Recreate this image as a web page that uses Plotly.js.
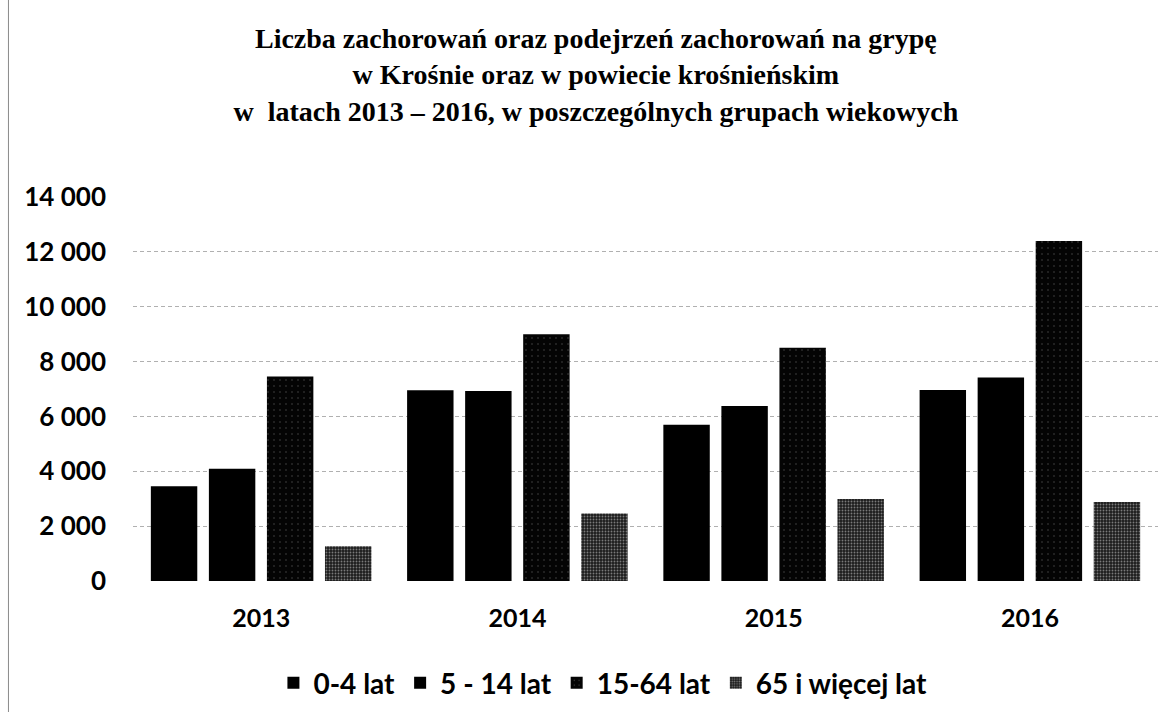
<!DOCTYPE html>
<html>
<head>
<meta charset="utf-8">
<script src="https://cdn.plot.ly/plotly-3.0.1.min.js"></script>
<style>html,body{margin:0;padding:0;background:#fff;}#chart{width:1173px;height:712px;}</style>
</head>
<body>
<div id="chart"></div>
<script>
const years = ['2013', '2014', '2015', '2016'];
const seriesNames = ['0-4 lat', '5 - 14 lat', '15-64 lat', '65 i więcej lat'];
const age0_4 = [3450, 6950, 5700, 6960];
const age5_14 = [4090, 6930, 6380, 7420];
const age15_64 = [7460, 9000, 8500, 12400];
const age65plus = [1270, 2460, 2990, 2880];
const yTicks = [0, 2000, 4000, 6000, 8000, 10000, 12000, 14000];

const styles = [
  {color: '#000000'},
  {color: '#000000'},
  {color: '#060606', pattern: {shape: '.', fgcolor: '#4a4a4a', bgcolor: '#040404', size: 6, solidity: 0.05}},
  {color: '#333333', pattern: {shape: '.', fgcolor: '#7a7a7a', bgcolor: '#1c1c1c', size: 3, solidity: 0.3}}
];
const values = [age0_4, age5_14, age15_64, age65plus];

const traces = values.map((v, i) => ({
  type: 'bar',
  name: seriesNames[i],
  x: years,
  y: v,
  marker: Object.assign({line: {width: 0}}, styles[i]),
  hoverinfo: 'skip'
}));

const yTickFont = {family: 'Lato, "Liberation Sans", sans-serif', size: 26, color: '#000', weight: 'bold'};
const xTickFont = {family: 'Lato, "Liberation Sans", sans-serif', size: 25, color: '#000', weight: 'bold'};

const layout = {
  width: 1173,
  height: 712,
  paper_bgcolor: '#ffffff',
  plot_bgcolor: '#ffffff',
  separators: ', ',
  margin: {l: 133, r: 15, t: 197, b: 131},
  title: {
    text: '<b>Liczba zachorowań oraz podejrzeń zachorowań na grypę<br>w Krośnie oraz w powiecie krośnieńskim<br>w  latach 2013 – 2016, w poszczególnych grupach wiekowych</b>',
    font: {family: '"Liberation Serif", "DejaVu Serif", serif', size: 28, color: '#000'},
    x: 0.508, xref: 'container', xanchor: 'center',
    y: 1 - 48 / 712, yref: 'container', yanchor: 'top'
  },
  barmode: 'group',
  bargap: 0.094,
  bargroupgap: 0.2,
  xaxis: {
    type: 'category',
    showgrid: false,
    showline: false,
    zeroline: false,
    ticks: '',
    tickfont: xTickFont,
    ticklabelstandoff: 20
  },
  yaxis: {
    range: [0, 14000],
    tickvals: yTicks,
    tickformat: ',d',
    showgrid: true,
    gridcolor: '#b0b0b0',
    gridwidth: 1,
    griddash: '4px,3px',
    zeroline: false,
    showline: false,
    ticks: '',
    tickfont: yTickFont,
    ticklabelstandoff: 26
  },
  showlegend: true,
  legend: {
    orientation: 'h',
    xref: 'container', x: 0.514, xanchor: 'center',
    yref: 'container', y: 1 - 683 / 712, yanchor: 'middle',
    font: {family: 'Lato, "Liberation Sans", sans-serif', size: 28, color: '#000', weight: 'bold'},
    itemwidth: 30,
    traceorder: 'normal'
  },
  shapes: [{
    type: 'line', xref: 'paper', yref: 'paper',
    x0: -0.1215, x1: -0.1215, y0: -0.343, y1: 1.514,
    line: {color: '#8a8a8a', width: 1}
  }]
};

Plotly.newPlot('chart', traces, layout, {displayModeBar: false, staticPlot: true});
</script>
</body>
</html>
